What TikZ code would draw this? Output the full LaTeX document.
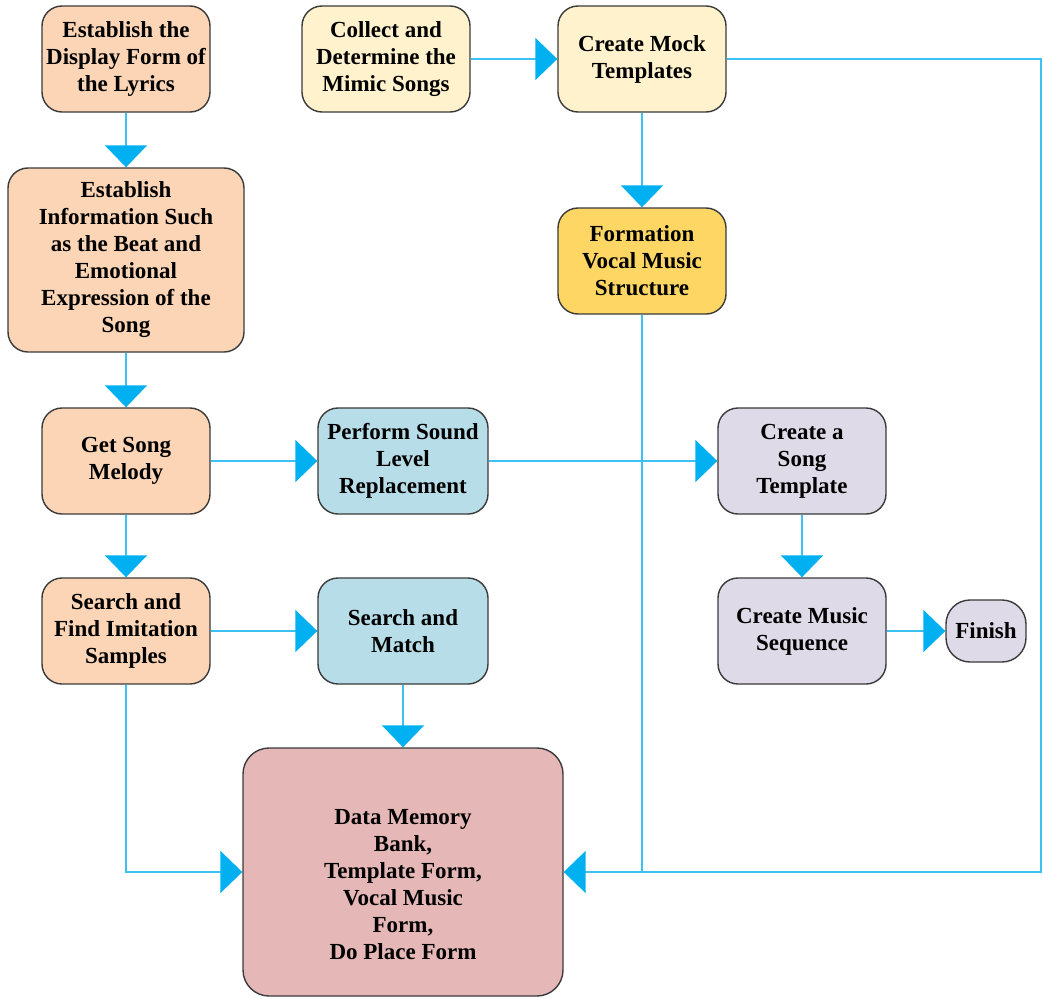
\documentclass[tikz,border=0pt]{standalone}
\usepackage{fontspec}
\setmainfont{Liberation Serif}
\usetikzlibrary{arrows.meta}
\definecolor{peach}{HTML}{FBD5B5}
\definecolor{cream}{HTML}{FFF2CC}
\definecolor{gold}{HTML}{FDD663}
\definecolor{skyblue}{HTML}{B7DDE8}
\definecolor{lavender}{HTML}{DEDAE7}
\definecolor{rose}{HTML}{E5B8B7}
\definecolor{boxedge}{HTML}{3A3A3A}
\definecolor{linkcol}{HTML}{3CC2F2}
\definecolor{arrowcol}{HTML}{00B0F0}
\begin{document}
\begin{tikzpicture}[x=1pt,y=-1pt,
  label/.style={align=center, font=\fontsize{23}{27}\selectfont\bfseries, inner sep=0pt},
  box/.style={label, draw=boxedge, line width=1.4pt, rounded corners=20pt,
    minimum width=168pt, minimum height=106pt},
  link/.style={draw=linkcol, line width=2pt},
  arr/.style={link, -{Triangle[width=42pt,length=22pt,color=arrowcol]}}]
\useasboundingbox (0,0) rectangle (1043,998);

% left column
\node[box, fill=peach] (A) at (126,59) {Establish the\\Display Form of\\the Lyrics};
\node[box, fill=peach, minimum width=236pt, minimum height=184pt] (B) at (126,260)
  {Establish\\Information Such\\as the Beat and\\Emotional\\Expression of the\\Song};
\node[box, fill=peach] (C) at (126,461) {Get Song\\Melody};
\node[box, fill=peach] (D) at (126,631) {Search and\\Find Imitation\\Samples};

% top row
\node[box, fill=cream] (E) at (386,59) {Collect and\\Determine the\\Mimic Songs};
\node[box, fill=cream] (F) at (642,59) {Create Mock\\Templates};
\node[box, fill=gold] (G) at (642,261) {Formation\\Vocal Music\\Structure};

% middle column
\node[box, fill=skyblue, minimum width=170pt] (H) at (403,461) {Perform Sound\\Level\\Replacement};
\node[box, fill=skyblue, minimum width=170pt] (I) at (403,631) {Search and\\Match};

% right column
\node[box, fill=lavender] (J) at (802,461) {Create a\\Song\\Template};
\node[box, fill=lavender] (K) at (802,631) {Create Music\\Sequence};
\node[box, fill=lavender, minimum width=80pt, minimum height=62pt, rounded corners=24pt] (L) at (986,631) {Finish};

% storage box, its text set a little below the middle
\node[box, fill=rose, minimum width=320pt, minimum height=248pt, rounded corners=26pt] (M) at (403,872) {};
\node[label] (Mtext) at (403,885)
  {Data Memory\\Bank,\\Template Form,\\Vocal Music\\Form,\\Do Place Form};

% connectors
\draw[arr] (A) -- (B);
\draw[arr] (B) -- (C);
\draw[arr] (C) -- (D);
\draw[arr] (C) -- (H);
\draw[arr] (H) -- (J);
\draw[arr] (D) -- (I);
\draw[arr] (I) -- (M);
\draw[arr] (D.south) |- (M.west);
\draw[arr] (E) -- (F);
\draw[arr] (F) -- (G);
\draw[link] (G.south) -- (G.south |- M.east);
\coordinate (rt) at (1041,59);
\draw[arr] (F.east) -- (rt) |- (M.east);
\draw[arr] (J) -- (K);
\draw[arr] (K) -- (L);
\end{tikzpicture}
\end{document}
